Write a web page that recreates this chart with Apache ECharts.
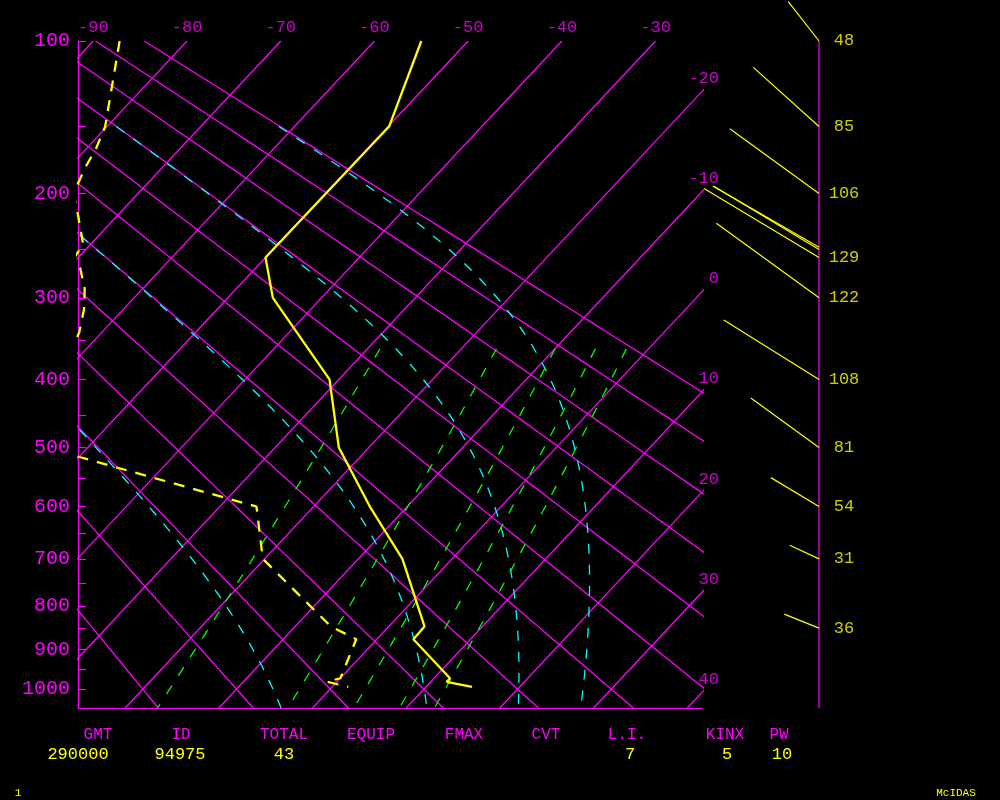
<!DOCTYPE html>
<html>
<head>
<meta charset="utf-8">
<script src="https://cdn.jsdelivr.net/npm/echarts@6/dist/echarts.min.js"></script>
<style>
html,body{margin:0;padding:0;background:#000;}
#chart{width:1000px;height:800px;}
</style>
</head>
<body>
<div id="chart"></div>
<script>
// ================= DATA =================
const pressureTicks  = [100,150,200,250,300,350,400,450,500,550,600,650,700,750,800,850,900,950,1000];
const pressureLabels = [100,200,300,400,500,600,700,800,900,1000];
const isotherms      = [-90,-80,-70,-60,-50,-40,-30,-20,-10,0,10,20,30,40];   // deg C
const dryAdiabats    = [-20,-10,0,10,20,30,40,50,60,70,80,90];               // theta, deg C
const moistAdiabats  = [0,30,60,90];                                          // theta-e, deg C
const mixingRatios   = [1,3,5,7,9];                                           // g/kg

// Sounding: temperature
const tempP = [100,150,258,300,400,500,600,700,846,876,972,981,994];
const tempT = [-55.0,-49.9,-50.0,-45.2,-31.0,-23.2,-14.0,-5.3,3.8,3.9,11.7,11.7,14.9];
// Sounding: dew point
const dewP = [100,150,165,180,200,218,245,258,268,290,313,340,400,500,600,700,846,876,972,981,994];
const dewT = [-87.2,-80.2,-79.0,-78.2,-76.9,-74.3,-70.8,-70.4,-68.8,-66.2,-64.2,-62.4,-60.0,-54.5,-26.1,-20.2,-6.2,-2.2,0.0,-1.1,1.7];

// Winds
const windP       = [100,150,200,248,250,258,300,400,500,600,700,850];
const windSpd     = [48,85,106,118,118,129,122,108,81,54,31,36];
const windDir     = [322,312,306,300,301,301,306,302,306,301,295,292];
const windLabeled = [true,true,true,false,false,true,true,true,true,true,true,true];

// Footer
const footerHeads  = ['GMT','ID','TOTAL','EQUIP','FMAX','CVT','L.I.','KINX','PW'];
const footerValues = ['290000','94975','43','7','5','10'];

// ================= DIAGRAM TRANSFORM =================
const KAPPA = 0.2857;      // vertical coordinate: p^kappa
const KAPPA_TH = 0.2846;   // Poisson exponent used for adiabats
const SKEW = 18.66;        // isotherm skew (x units per vertical unit)
const P_TOP = 100, P_BOT = 1050;
const yOf = p => Math.pow(p, KAPPA);
const Y_TOP = yOf(P_TOP), Y_BOT = yOf(P_BOT);
const xOf = (T, p) => T + SKEW * (Y_BOT - yOf(p));
const X_MIN = -25.03, X_MAX = 41.57;
const PX_PER_KT = 1.04;

const MAG = '#ff00ff', YEL = '#ffff00', CYAN = '#00ffff', GRN = '#00ff00';
const FONT = 'Liberation Mono';

function levels(pFrom, pTo, step) {
  const out = [];
  if (pFrom < pTo) { for (let p = pFrom; p <= pTo + 1e-9; p += step) out.push(p); }
  else { for (let p = pFrom; p >= pTo - 1e-9; p -= step) out.push(p); }
  return out;
}
function satMix(Tc, p) {
  const es = 6.112 * Math.exp(17.67 * Tc / (Tc + 243.5));
  if (es >= 0.5 * p) return Infinity;
  return 0.622 * es / (p - es);
}
function thetaE(Tc, p) {
  const T = Tc + 273.15;
  const r = satMix(Tc, p);
  if (!isFinite(r)) return Infinity;
  return T * Math.pow(1000 / p, KAPPA_TH) * Math.exp(2.5e6 * r / (1004 * T));
}
function moistT(thK, p) {
  let lo = -130, hi = 60;
  for (let i = 0; i < 60; i++) {
    const mid = (lo + hi) / 2;
    if (thetaE(mid, p) > thK) hi = mid; else lo = mid;
  }
  return (lo + hi) / 2;
}

function lineSeries(points, color, width, type, z) {
  return {
    type: 'line', xAxisIndex: 0, yAxisIndex: 0, data: points,
    showSymbol: false, symbol: 'none', silent: true, clip: true, animation: false,
    lineStyle: { color: color, width: width, type: type }, z: z
  };
}

const series = [];
// Isotherms
isotherms.forEach(T => {
  series.push(lineSeries([[xOf(T, P_BOT), Y_BOT], [xOf(T, P_TOP), Y_TOP]], MAG, 1.3, 'solid', 2));
});
// Dry adiabats
dryAdiabats.forEach(th => {
  const pts = levels(P_BOT, P_TOP, 10).map(p => {
    const T = (th + 273.15) * Math.pow(p / 1000, KAPPA_TH) - 273.15;
    return [xOf(T, p), yOf(p)];
  });
  series.push(lineSeries(pts, MAG, 1.3, 'solid', 2));
});
// Moist adiabats (drawn from top down)
moistAdiabats.forEach(te => {
  const pts = levels(150, P_BOT, 10).map(p => [xOf(moistT(te + 273.15, p), p), yOf(p)]);
  series.push(lineSeries(pts, CYAN, 1.3, [10, 11], 3));
});
// Mixing ratio lines
mixingRatios.forEach(w => {
  const pts = levels(360, P_BOT, 10).map(p => {
    const e = w * p / (622 + w);
    const l = Math.log(e / 6.112);
    const Td = 243.5 * l / (17.67 - l);
    return [xOf(Td, p), yOf(p)];
  });
  series.push(lineSeries(pts, GRN, 1.3, [10, 12], 3));
});
// Temperature and dew point
series.push(lineSeries(tempP.map((p, i) => [xOf(tempT[i], p), yOf(p)]), YEL, 2.3, 'solid', 6));
series.push(lineSeries(dewP.map((p, i) => [xOf(dewT[i], p), yOf(p)]), YEL, 2.3, [11, 9], 6));

// Isotherm labels
const isoTop = [], isoRight = [];
isotherms.forEach(T => {
  const xt = xOf(T, P_TOP);
  if (xt <= X_MAX) isoTop.push([xt, Y_TOP, T]);
  else {
    const Y = Y_BOT - (X_MAX - T) / SKEW;
    if (Y > Y_TOP && Y <= Y_BOT) isoRight.push([X_MAX, Y, T]);
  }
});
function labelSeries(data, xi, yi, pos, align, color, size) {
  return {
    type: 'scatter', xAxisIndex: xi, yAxisIndex: yi, data: data, symbolSize: 0.01,
    itemStyle: { color: 'rgba(0,0,0,0)' }, silent: true, clip: false, z: 7,
    label: {
      show: true, position: pos, align: align, verticalAlign: 'middle',
      formatter: p => String(p.value[2]), color: color, fontSize: size, fontFamily: FONT
    }
  };
}
series.push(labelSeries(isoTop, 0, 0, [0, -13], 'center', MAG, 17));
series.push(labelSeries(isoRight, 0, 0, [17, -13], 'right', MAG, 17));

// Wind axis line
series.push({
  type: 'line', xAxisIndex: 1, yAxisIndex: 1, data: [[0, Y_TOP], [0, Y_BOT]],
  showSymbol: false, symbol: 'none', silent: true, clip: false,
  lineStyle: { color: MAG, width: 1.2 }, z: 4
});
// Winds
series.push({
  type: 'custom', coordinateSystem: 'cartesian2d', xAxisIndex: 1, yAxisIndex: 1, silent: true, z: 5,
  data: windP.map((p, i) => [0, yOf(p), windSpd[i], windDir[i]]),
  encode: { x: 0, y: 1 },
  renderItem: (params, api) => {
    const b = api.coord([api.value(0), api.value(1)]);
    const L = api.value(2) * PX_PER_KT;
    const a = api.value(3) * Math.PI / 180;
    return {
      type: 'line',
      shape: { x1: b[0], y1: b[1], x2: b[0] + L * Math.sin(a), y2: b[1] - L * Math.cos(a) },
      style: { stroke: YEL, lineWidth: 1.2 }
    };
  }
});
series.push(labelSeries(
  windP.map((p, i) => [0, yOf(p), windSpd[i]]).filter((d, i) => windLabeled[i]),
  1, 1, [25, 0], 'center', YEL, 17));

// Footer text
const headX = [98, 181, 284, 371, 464, 546, 627, 725, 779];
const valX = [78, 180, 284, 630, 727, 782];
const graphic = [];
const txtStyle = (t, color, size) => ({ text: t, fill: color, font: size + 'px "' + FONT + '"', align: 'center', verticalAlign: 'middle', textAlign: 'center', textVerticalAlign: 'middle' });
footerHeads.forEach((t, i) => graphic.push({ type: 'text', x: headX[i], y: 735, style: txtStyle(t, MAG, 16) }));
footerValues.forEach((t, i) => graphic.push({ type: 'text', x: valX[i], y: 754, style: txtStyle(t, YEL, 17) }));
graphic.push({ type: 'text', x: 18, y: 793, style: txtStyle('1', YEL, 11) });
graphic.push({ type: 'text', x: 956, y: 793, style: txtStyle('McIDAS', YEL, 11) });

const chart = echarts.init(document.getElementById('chart'), null, { renderer: 'canvas' });
chart.setOption({
  backgroundColor: '#000',
  animation: false,
  grid: [
    { left: 78, top: 41, width: 624, height: 667 },
    { left: 700, top: 41, width: 119, height: 667 }
  ],
  xAxis: [
    { type: 'value', gridIndex: 0, min: X_MIN, max: X_MAX,
      axisLine: { show: true, onZero: false, lineStyle: { color: MAG, width: 1.2 } },
      axisTick: { show: false }, axisLabel: { show: false }, splitLine: { show: false } },
    { type: 'value', gridIndex: 1, min: -1, max: 0, show: false }
  ],
  yAxis: [
    { type: 'value', gridIndex: 0, inverse: true, min: Y_TOP, max: Y_BOT,
      axisLine: { show: true, onZero: false, lineStyle: { color: MAG, width: 1.2 } },
      axisTick: { show: true, inside: true, length: 8, customValues: pressureTicks.map(yOf), lineStyle: { color: MAG, width: 1.2 } },
      axisLabel: { show: true, customValues: pressureLabels.map(yOf), margin: 8,
        formatter: v => String(Math.round(Math.pow(v, 1 / KAPPA))),
        color: MAG, fontSize: 20, fontFamily: FONT },
      splitLine: { show: false } },
    { type: 'value', gridIndex: 1, inverse: true, min: Y_TOP, max: Y_BOT, show: false }
  ],
  graphic: graphic,
  series: series
});
</script>
</body>
</html>
